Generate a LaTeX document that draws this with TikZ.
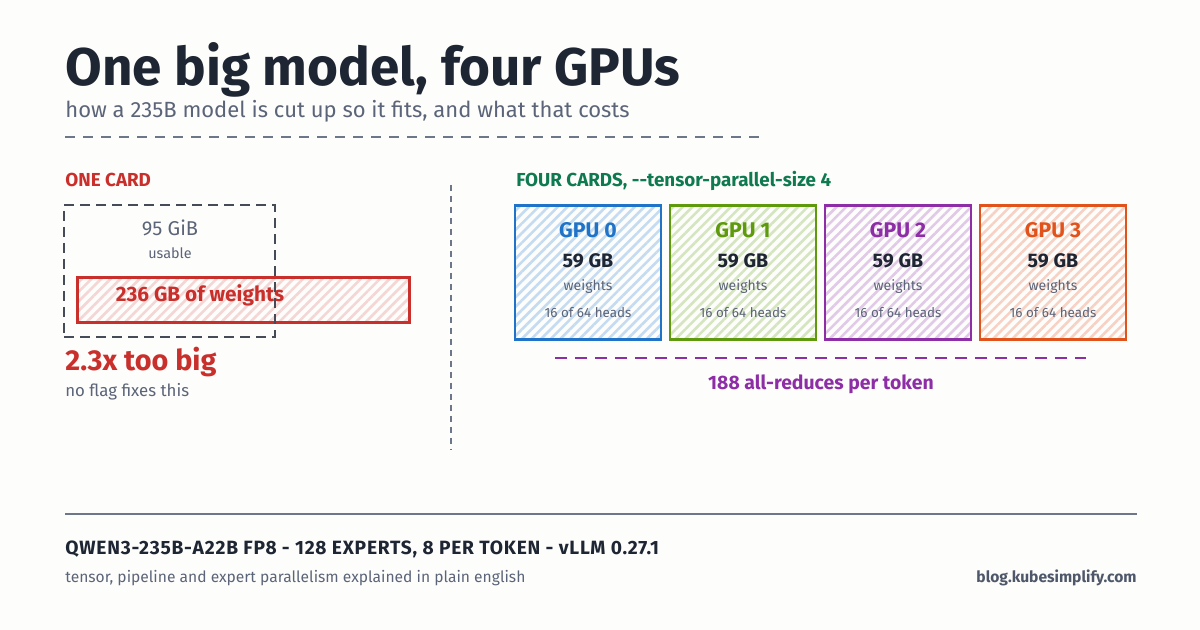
\documentclass[tikz,border=0pt]{standalone}
\usepackage{fontspec}
\setmainfont{Fira Sans}
\usetikzlibrary{positioning, patterns.meta}
\definecolor{paper}{HTML}{FDFDFB}
\definecolor{inkDark}{HTML}{1E2533}
\definecolor{inkMuted}{HTML}{5B6478}
\definecolor{inkRule}{HTML}{6E7789}
\definecolor{boxGray}{HTML}{454C57}
\definecolor{cardRed}{HTML}{C9302C}
\definecolor{cardGreen}{HTML}{0F7A50}
\definecolor{gpuBlue}{HTML}{1F74C9}
\definecolor{gpuLime}{HTML}{5E9A0C}
\definecolor{gpuPurple}{HTML}{8D2EA6}
\definecolor{gpuOrange}{HTML}{E2531B}
\tikzset{
  txt/.style={inner sep=0pt, anchor=base west},
  txtC/.style={inner sep=0pt, anchor=base},
  hatch/.style={pattern={Lines[angle=45, distance=3.4pt, line width=1.3pt]},
                pattern color=#1},
  gpuBox/.style={rectangle, draw=#1, line width=1.4pt, inner sep=0pt, outer sep=0pt,
                 minimum width=73pt, minimum height=67pt, hatch=#1!26},
  gpuName/.style={txtC, font=\bfseries\fontsize{10.6}{12}\selectfont},
  gpuSize/.style={txtC, font=\bfseries\fontsize{9.8}{12}\selectfont, text=inkDark},
  gpuNote/.style={txtC, font=\fontsize{7}{8}\selectfont, text=inkMuted},
  gpuHeads/.style={txtC, font=\fontsize{6.7}{8}\selectfont, text=inkMuted},
  sectionHead/.style={txt, font=\bfseries\fontsize{9.4}{11}\selectfont},
  ruleDash/.style={inkRule, line width=1pt, dash pattern=on 5pt off 4pt},
}
\begin{document}
\begin{tikzpicture}[x=0.5pt, y=-0.5pt]
    \fill[paper] (0,0) rectangle (1200,630);
    \useasboundingbox (0,0) rectangle (1200,630);

    %% Heading
    \node[txt, font=\bfseries\fontsize{26.5}{30}\selectfont, text=inkDark]
         (title) at (65,86) {One big model, four GPUs};
    \node[txt, font=\fontsize{11}{13}\selectfont, text=inkMuted]
         (sub) at (65,118) {how a 235B model is cut up so it fits, and what that costs};
    \coordinate (subL) at (65,137); \coordinate (subR) at (760,137);
    \draw[ruleDash] (subL) -- (subR);

    %% Left side: one card
    \node[sectionHead, text=cardRed] (oneHead) at (65,187) {ONE CARD};
    \node[rectangle, draw=cardRed, line width=1.5pt, hatch=cardRed!20,
          minimum width=166pt, minimum height=22.5pt, inner sep=0pt]
         (weights) at (243.5,300.5) {};
    \node[txtC, font=\bfseries\fontsize{10.4}{12}\selectfont, text=cardRed]
         (weightsTxt) at (200,302) {236 GB of weights};
    \node[rectangle, draw=boxGray, line width=1.2pt, dash pattern=on 5pt off 3pt,
          minimum width=105.5pt, minimum height=66pt, inner sep=0pt]
         (card) at (169.5,271) {};
    \node[txtC, font=\fontsize{10}{12}\selectfont, text=inkMuted] (gib) at (170,236) {95 GiB};
    \node[txtC, font=\fontsize{7.2}{9}\selectfont, text=inkMuted] (usable) at (170,259) {usable};
    \node[txt, font=\bfseries\fontsize{14.4}{16}\selectfont, text=cardRed] (big) at (65,371) {2.3x too big};
    \node[txt, font=\fontsize{8.4}{10}\selectfont, text=inkMuted] (noflag) at (65,397) {no flag fixes this};

    %% Divider
    \coordinate (divT) at (451,185); \coordinate (divB) at (451,450);
    \draw[inkRule, line width=0.7pt, dash pattern=on 3pt off 2.5pt] (divT) -- (divB);

    %% Right side: four cards
    \node[sectionHead, text=cardGreen] (fourHead) at (516,187) {FOUR CARDS, -{}-tensor-parallel-size 4};
    \node[gpuBox=gpuBlue] (gpu0) at (588,272.5) {};
    \node[gpuBox=gpuLime, right=4.5pt of gpu0] (gpu1) {};
    \node[gpuBox=gpuPurple, right=4.5pt of gpu1] (gpu2) {};
    \node[gpuBox=gpuOrange, right=4.5pt of gpu2] (gpu3) {};

    \node[gpuName, text=gpuBlue] at ([yshift=-16pt]gpu0.north) {GPU 0};
    \node[gpuSize] at ([yshift=-31pt]gpu0.north) {59 GB};
    \node[gpuNote] at ([yshift=-42.5pt]gpu0.north) {weights};
    \node[gpuHeads] at ([yshift=-56pt]gpu0.north) {16 of 64 heads};

    \node[gpuName, text=gpuLime] at ([yshift=-16pt]gpu1.north) {GPU 1};
    \node[gpuSize] at ([yshift=-31pt]gpu1.north) {59 GB};
    \node[gpuNote] at ([yshift=-42.5pt]gpu1.north) {weights};
    \node[gpuHeads] at ([yshift=-56pt]gpu1.north) {16 of 64 heads};

    \node[gpuName, text=gpuPurple] at ([yshift=-16pt]gpu2.north) {GPU 2};
    \node[gpuSize] at ([yshift=-31pt]gpu2.north) {59 GB};
    \node[gpuNote] at ([yshift=-42.5pt]gpu2.north) {weights};
    \node[gpuHeads] at ([yshift=-56pt]gpu2.north) {16 of 64 heads};

    \node[gpuName, text=gpuOrange] at ([yshift=-16pt]gpu3.north) {GPU 3};
    \node[gpuSize] at ([yshift=-31pt]gpu3.north) {59 GB};
    \node[gpuNote] at ([yshift=-42.5pt]gpu3.north) {weights};
    \node[gpuHeads] at ([yshift=-56pt]gpu3.north) {16 of 64 heads};

    %% All-reduce line
    \coordinate (arL) at (555,358); \coordinate (arR) at (1086,358);
    \draw[gpuPurple, line width=1.3pt, dash pattern=on 6pt off 4pt] (arL) -- (arR);
    \node[txtC, font=\bfseries\fontsize{9.7}{11}\selectfont, text=gpuPurple]
         (allred) at (821,390) {188 all-reduces per token};

    %% Footer
    \coordinate (footL) at (65,514); \coordinate (footR) at (1137,514);
    \draw[inkRule, line width=1pt] (footL) -- (footR);
    \node[txt, font=\bfseries\fontsize{9.6}{11}\selectfont\addfontfeatures{LetterSpace=4}, text=inkDark]
         (model) at (65,554) {QWEN3-235B-A22B FP8 - 128 EXPERTS, 8 PER TOKEN - vLLM 0.27.1};
    \node[txt, font=\fontsize{7.8}{9}\selectfont, text=inkMuted]
         (tagline) at (65,582) {tensor, pipeline and expert parallelism explained in plain english};
    \node[inner sep=0pt, anchor=base east, font=\bfseries\fontsize{7.8}{9}\selectfont, text=inkMuted!80!inkDark]
         (site) at (1137,582) {blog.kubesimplify.com};
  \end{tikzpicture}
\end{document}
